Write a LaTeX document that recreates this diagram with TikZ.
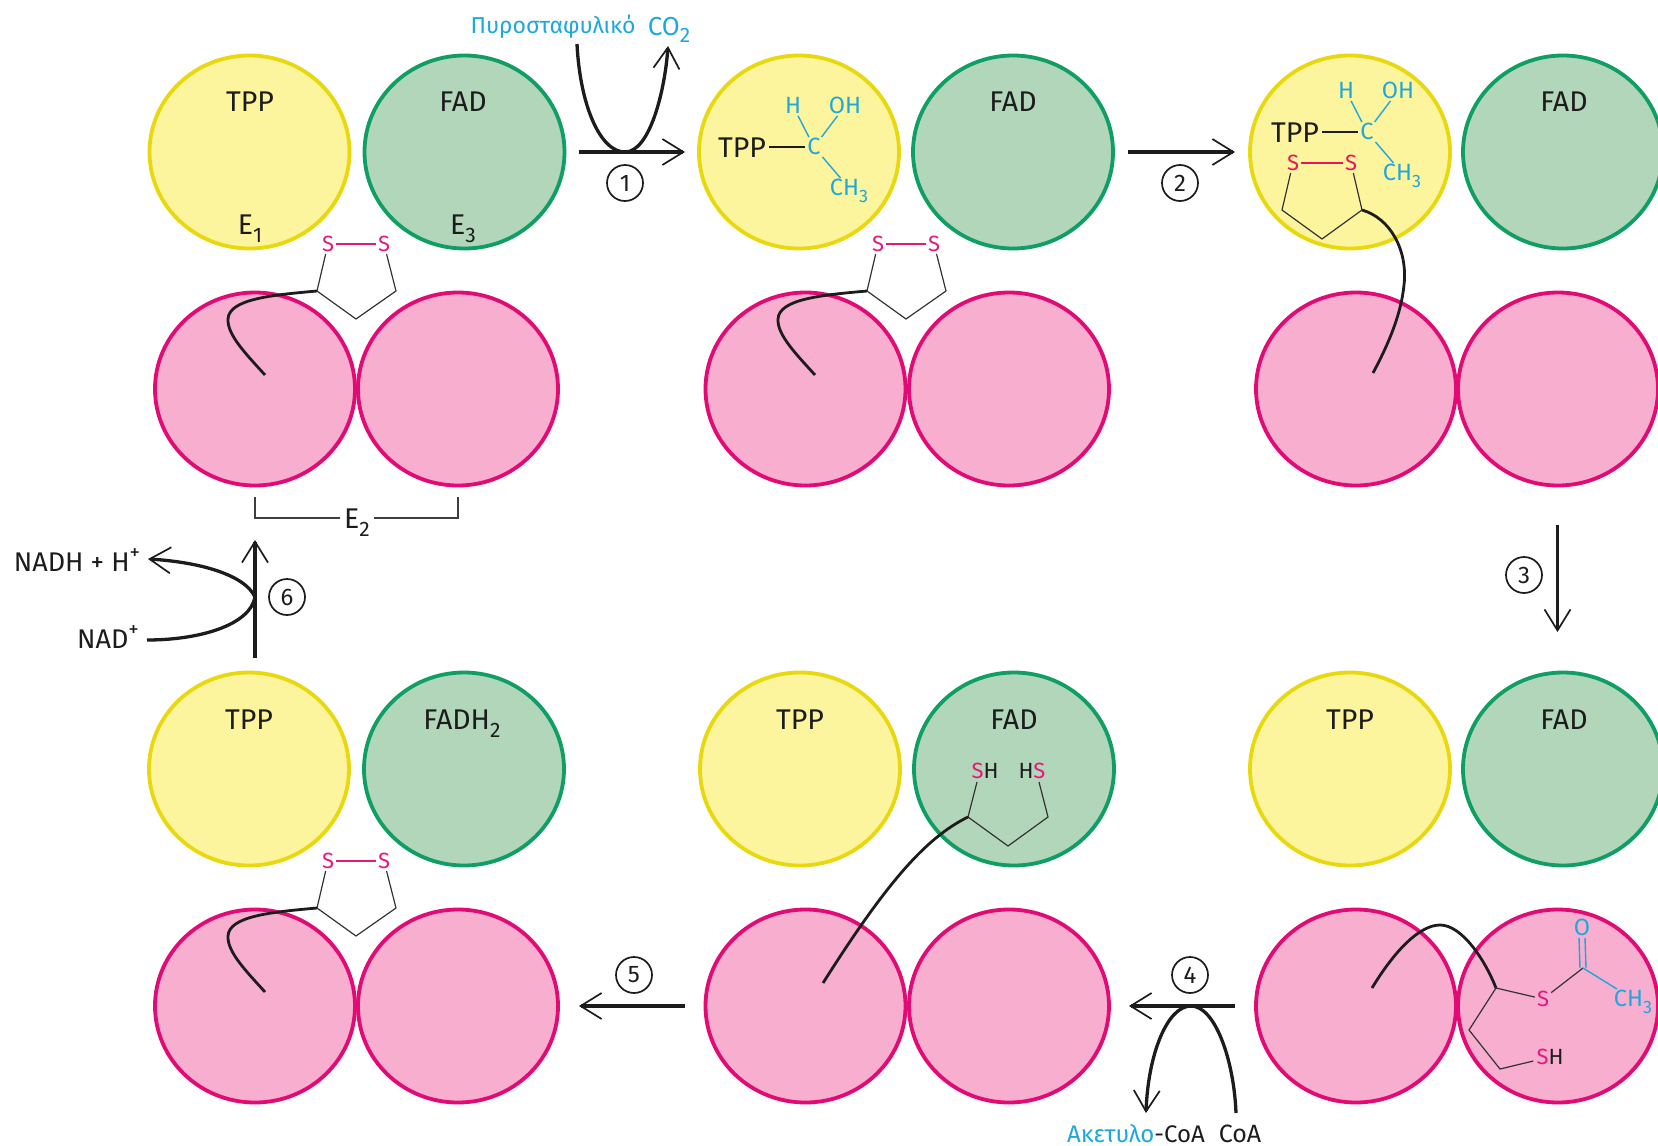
\documentclass[tikz,border=0pt]{standalone}
\usepackage{fontspec}
\setmainfont{Fira Sans}
\usetikzlibrary{shapes.geometric,arrows.meta}
\definecolor{yelf}{HTML}{FDF49E}\definecolor{yeld}{HTML}{E9D80E}
\definecolor{grnf}{HTML}{B2D6BA}\definecolor{grnd}{HTML}{0F9E63}
\definecolor{pnkf}{HTML}{F7AECF}\definecolor{pnkd}{HTML}{E20B75}
\definecolor{cyn}{HTML}{1EA7DE}\definecolor{spk}{HTML}{E5197D}
\definecolor{ink}{HTML}{1C1C1C}
\newcommand{\sbb}[1]{\raisebox{-.3em}{\fontsize{21}{21}\selectfont #1}}
\newcommand{\ssb}[1]{\raisebox{-.28em}{\fontsize{18}{18}\selectfont #1}}
\newcommand{\spp}[1]{\raisebox{.42em}{\fontsize{21}{21}\selectfont #1}}
\tikzset{
  x=1pt,y=-1pt,
  blob/.style={ellipse,minimum width=200pt,minimum height=193pt,inner sep=0pt,line width=3.8pt},
  yel/.style={blob,fill=yelf,draw=yeld},
  grn/.style={blob,fill=grnf,draw=grnd},
  pnk/.style={blob,fill=pnkf,draw=pnkd},
  lab/.style={inner sep=0pt,text height=20pt,text depth=0pt,font=\fontsize{28.5}{28.5}\selectfont,text=ink},
  atom/.style={inner sep=2pt,text height=15.5pt,text depth=0pt,font=\fontsize{23.5}{23.5}\selectfont},
  cat/.style={atom,text=cyn},
  sat/.style={atom,text=spk,font=\fontsize{22}{22}\selectfont},
  cbond/.style={draw=cyn,line width=1.4pt},
  sbond/.style={draw=spk,line width=1.4pt},
  kbond/.style={draw=ink,line width=1.4pt},
  ringl/.style={draw=ink!90,line width=1.2pt,line join=miter},
  arm/.style={draw=ink,line width=2.8pt},
  flow/.style={draw=ink,line width=3.3pt,-{Straight Barb[length=21pt,width=26pt,line width=1.7pt]}},
  flowp/.style={draw=ink,line width=3.3pt},
  num/.style={circle,draw=ink,line width=1.7pt,minimum size=36pt,inner sep=0pt,text=ink,font=\fontsize{24}{24}\selectfont},
  brk/.style={draw=ink!85,line width=1.8pt},
  pics/lipo/.style={code={
    \coordinate (-c) at (0,0);
    \node[sat] (-s1) at (11,-47) {S};
    \node[sat] (-s2) at (67,-47) {S};
    \coordinate (-b) at (39,28);
    \coordinate (-r) at (79,0);
    \draw[ringl] (-s1) -- (-c) -- (-b) -- (-r) -- (-s2);
    \draw[sbond] (-s1) -- (-s2);
    \coordinate (-a) at (-52,84);
    \draw[arm] (-a) .. controls (-70,64) and (-90,44) .. (-89,28) .. controls (-88,8) and (-45,4) .. (-c);
  }},
  pics/hydroxy/.style={code={
    \node[cat] (-c) at (0,0) {C};
    \node[lab] (-t) at (-72,0) {TPP};
    \node[cat] (-h) at (-21,-41) {H};
    \node[cat] (-oh) at (31,-41) {OH};
    \node[cat] (-me) at (35,41) {CH\ssb{3}};
    \draw[kbond] (-t) ++(27,0) -- (-c);
    \draw[cbond] (-c) -- (-h);
    \draw[cbond] (-c) -- (-oh);
    \draw[cbond] (-c) -- (-me);
  }},
}
\begin{document}
\begin{tikzpicture}
\useasboundingbox (0,0) rectangle (1658,1146);
% --- domains, row 1
\node[yel] (y1) at (249.5,152) {};
\node[grn] (g1) at (464.5,152) {};
\node[yel] (y2) at (799,152) {};
\node[grn] (g2) at (1013,152) {};
\node[yel] (y3) at (1350,152) {};
\node[grn] (g3) at (1563,152) {};
% --- row 2
\node[pnk] (p1a) at (255,389) {};
\node[pnk] (p1b) at (458,389) {};
\node[pnk] (p2a) at (805.5,389) {};
\node[pnk] (p2b) at (1009,389) {};
\node[pnk] (p3a) at (1356,389) {};
\node[pnk] (p3b) at (1558,389) {};
% --- row 3
\node[yel] (y4) at (249,769) {};
\node[grn] (g4) at (464,769) {};
\node[yel] (y5) at (800,769) {};
\node[grn] (g5) at (1014,769) {};
\node[yel] (y6) at (1350,769) {};
\node[grn] (g6) at (1563,769) {};
% --- row 4
\node[pnk] (p4a) at (255,1006) {};
\node[pnk] (p4b) at (458,1006) {};
\node[pnk] (p5a) at (805.5,1006) {};
\node[pnk] (p5b) at (1009,1006) {};
\node[pnk] (p6a) at (1356,1006) {};
\node[pnk] (p6b) at (1558,1006) {};
% --- labels
\node[lab] at (250,101) {TPP};
\node[lab] at (463,101) {FAD};
\node[lab] at (250,224) {E\sbb{1}};
\node[lab] at (463,224) {E\sbb{3}};
\node[lab] at (1013,101) {FAD};
\node[lab] at (1564,101) {FAD};
\node[lab] at (249,719) {TPP};
\node[lab] at (462,719) {FADH\sbb{2}};
\node[lab] at (800,719) {TPP};
\node[lab] at (1014,719) {FAD};
\node[lab] at (1350,719) {TPP};
\node[lab] at (1564,719) {FAD};
% --- lipoyl arms, closed ring
\pic (l1) at (317,291) {lipo};
\pic (l2) at (867,291) {lipo};
\pic (l4) at (317,908) {lipo};
% --- hydroxyethyl groups
\pic (h2) at (814,147) {hydroxy};
\pic (h3) at (1367,132) {hydroxy};
% --- column 3, row 1: ring in the yellow domain
\node[sat,text=spk!75!red] (as1) at (1293,163) {S};
\node[sat,text=spk!75!red] (as2) at (1351,163) {S};
\coordinate (ac) at (1362,210);
\coordinate (ab) at (1322,239);
\coordinate (al) at (1282,210);
\coordinate (ae) at (1373,373);
\draw[ringl] (as1) -- (al) -- (ab) -- (ac) -- (as2);
\draw[sbond,draw=spk!75!red] (as1) -- (as2);
\draw[arm] (ac) .. controls (1390,218) and (1408,250) .. (1404,285) .. controls (1401,315) and (1388,345) .. (ae);
% --- column 2, row 3: reduced ring in the green domain
\node[atom,inner sep=1pt,font=\fontsize{22}{22}\selectfont] (bs1) at (985,771) {\textcolor{spk}{S}\textcolor{ink}{H}};
\node[atom,inner sep=1pt,font=\fontsize{22}{22}\selectfont] (bs2) at (1032,771) {\textcolor{ink}{H}\textcolor{spk}{S}};
\coordinate (bc) at (968,817);
\coordinate (bb) at (1008,846);
\coordinate (br) at (1048,817);
\coordinate (be) at (823,983);
\coordinate (bt1) at (977,782);
\coordinate (bt2) at (1039,782);
\draw[ringl] (bt1) -- (bc) -- (bb) -- (br) -- (bt2);
\draw[arm] (bc) .. controls (925,838) and (885,885) .. (be);
% --- column 3, row 4: acetyl lipoyl
\coordinate (dc) at (1496,988);
\coordinate (de) at (1372,988);
\coordinate (d1) at (1469,1030);
\coordinate (d2) at (1500,1069);
\node[sat] (ds) at (1543,999) {S};
\node[atom,inner sep=3pt,font=\fontsize{22}{22}\selectfont] (dh) at (1550,1057) {\textcolor{spk}{S}\textcolor{ink}{H}};
\coordinate (dk) at (1583,968);
\node[cat] (do) at (1582,928) {O};
\node[cat] (dm) at (1633,999) {CH\ssb{3}};
\draw[arm] (de) .. controls (1395,950) and (1420,925) .. (1440,925) .. controls (1462,925) and (1485,960) .. (dc);
\draw[ringl] (ds) -- (dc) -- (d1) -- (d2) -- (dh);
\draw[ringl] (ds) -- (dk);
\draw[cbond] (dk) -- (dm);
\draw[cbond] ([xshift=-3pt]dk) -- ([xshift=-3pt]do.south);
\draw[cbond] ([xshift=3pt]dk) -- ([xshift=3pt]do.south);
% --- E2 bracket
\node[lab,inner sep=4pt] (e2) at (357,518) {E\sbb{2}};
\coordinate (e2a) at (255,497);
\coordinate (e2b) at (458,497);
\draw[brk] (e2a) |- (e2);
\draw[brk] (e2b) |- (e2);
% --- step 1
\coordinate (f1s) at (579,152); \coordinate (f1e) at (685,152);
\coordinate (c1s) at (577,44); \coordinate (c1m) at (625,152); \coordinate (c1e) at (668,46);
\draw[flow] (f1s) -- (f1e);
\draw[flowp] (c1s) .. controls (580,105) and (600,152) .. (c1m);
\draw[flow] (c1m) .. controls (650,152) and (665,90) .. (c1e);
\node[num] (n1) at (625,183) {1};
\node[lab,text=cyn,font=\fontsize{23}{23}\selectfont,text height=16pt] (pyr) at (553,25) {Πυροσταφυλικό};
\node[lab,text=cyn,font=\fontsize{26}{26}\selectfont,text height=18pt] (co2) at (669,26) {CO\sbb{2}};
% --- step 2
\coordinate (f2s) at (1128,152); \coordinate (f2e) at (1235,152);
\draw[flow] (f2s) -- (f2e);
\node[num] (n2) at (1180,183) {2};
% --- step 3
\coordinate (f3s) at (1557.5,525); \coordinate (f3e) at (1557.5,632);
\draw[flow] (f3s) -- (f3e);
\node[num] (n3) at (1524,575) {3};
% --- step 4
\coordinate (f4s) at (1235,1006); \coordinate (f4e) at (1129,1006);
\coordinate (c4s) at (1236,1113); \coordinate (c4m) at (1191,1006); \coordinate (c4e) at (1146,1113);
\draw[flow] (f4s) -- (f4e);
\draw[flowp] (c4s) .. controls (1234,1060) and (1215,1006) .. (c4m);
\draw[flow] (c4m) .. controls (1167,1006) and (1148,1055) .. (c4e);
\node[num] (n4) at (1190,975) {4};
\node[lab,font=\fontsize{24}{24}\selectfont,text height=17pt] (acoa) at (1136,1134) {\textcolor{cyn}{Ακετυλο}-CoA};
\node[lab,font=\fontsize{25}{25}\selectfont,text height=17pt] (coa) at (1240,1134) {CoA};
% --- step 5
\coordinate (f5s) at (685,1006); \coordinate (f5e) at (579,1006);
\draw[flow] (f5s) -- (f5e);
\node[num] (n5) at (634,975) {5};
% --- step 6
\coordinate (f6s) at (255,658); \coordinate (f6e) at (255,540);
\coordinate (c6s) at (147,640); \coordinate (c6m) at (255,597); \coordinate (c6e) at (148,559);
\draw[flow] (f6s) -- (f6e);
\draw[flowp] (c6s) .. controls (200,640) and (250,625) .. (c6m);
\draw[flow] (c6m) .. controls (245,575) and (200,562) .. (c6e);
\node[num] (n6) at (287,597) {6};
\node[lab,font=\fontsize{27}{27}\selectfont,text height=18pt] (nadh) at (77,562) {NADH + H\spp{+}};
\node[lab,font=\fontsize{27}{27}\selectfont,text height=18pt] (nad) at (108,639) {NAD\spp{+}};
\end{tikzpicture}
\end{document}
